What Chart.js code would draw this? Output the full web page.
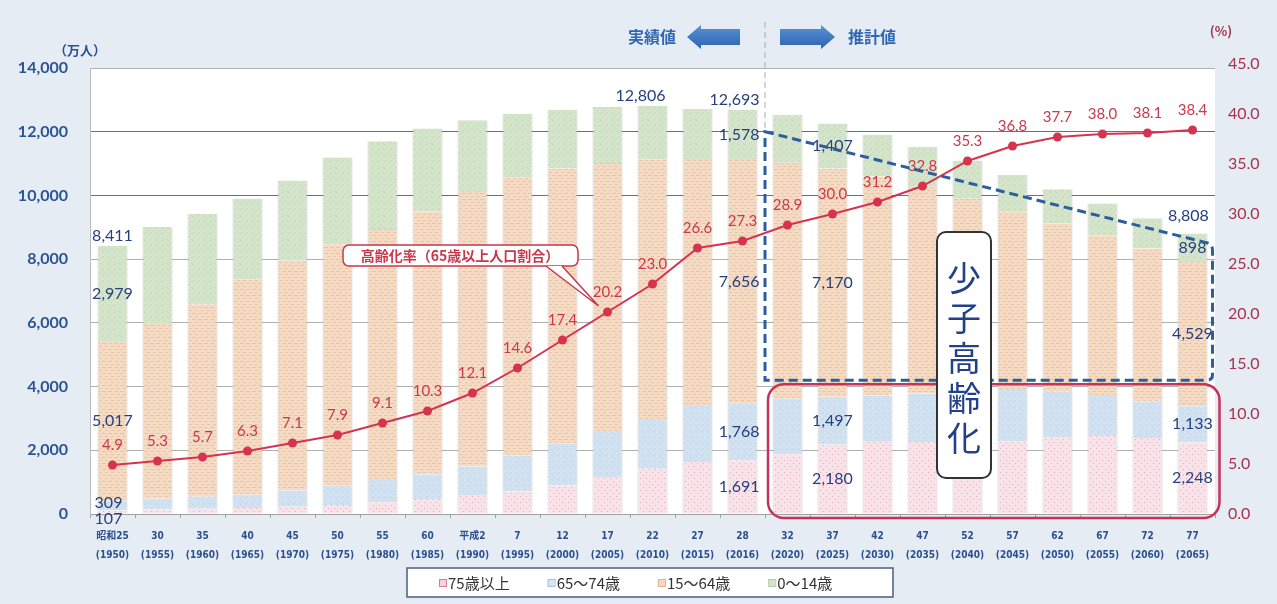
<!DOCTYPE html>
<html>
<head>
<meta charset="utf-8">
<script src="https://cdn.jsdelivr.net/npm/chart.js@4.4.1/dist/chart.umd.min.js"></script>
<style>
  html, body { margin: 0; padding: 0; background: #e5ecf3; }
  canvas { display: block; }
</style>
</head>
<body>
<canvas id="popChart" width="1277" height="604"></canvas>
<script>
// 年次（和暦・西暦）
const eras = ['昭和25', '30', '35', '40', '45', '50', '55', '60', '平成2', '7', '12', '17', '22', '27', '28',
              '32', '37', '42', '47', '52', '57', '62', '67', '72', '77'];
const years = [1950, 1955, 1960, 1965, 1970, 1975, 1980, 1985, 1990, 1995, 2000, 2005, 2010, 2015, 2016,
               2020, 2025, 2030, 2035, 2040, 2045, 2050, 2055, 2060, 2065];

// 年齢区分別人口（万人）
const age0to14  = [2979, 3012, 2843, 2553, 2515, 2722, 2751, 2603, 2254, 2003, 1850, 1759, 1684, 1595, 1578,
                   1507, 1407, 1321, 1246, 1194, 1138, 1077, 1012, 951, 898];
const age15to64 = [5017, 5517, 6047, 6744, 7212, 7581, 7883, 8251, 8614, 8726, 8638, 8442, 8174, 7728, 7656,
                   7406, 7170, 6875, 6494, 5978, 5584, 5275, 5028, 4793, 4529];
const age65to74 = [309, 338, 375, 418, 516, 601, 699, 776, 894, 1110, 1304, 1412, 1528, 1755, 1768,
                   1747, 1497, 1428, 1522, 1681, 1643, 1424, 1258, 1154, 1133];
const age75plus = [107, 139, 163, 189, 224, 284, 366, 471, 597, 718, 901, 1164, 1420, 1632, 1691,
                   1872, 2180, 2288, 2260, 2239, 2277, 2417, 2446, 2387, 2248];
const totalPop  = [8411, 9008, 9430, 9921, 10467, 11194, 11706, 12105, 12361, 12557, 12693, 12777, 12806, 12709, 12693,
                   12532, 12254, 11913, 11522, 11092, 10642, 10192, 9744, 9284, 8808];

// 高齢化率（%）
const agingRate = [4.9, 5.3, 5.7, 6.3, 7.1, 7.9, 9.1, 10.3, 12.1, 14.6, 17.4, 20.2, 23.0, 26.6, 27.3,
                   28.9, 30.0, 31.2, 32.8, 35.3, 36.8, 37.7, 38.0, 38.1, 38.4];

const popTicks = [0, 2000, 4000, 6000, 8000, 10000, 12000, 14000];
const rateTicks = [0, 5, 10, 15, 20, 25, 30, 35, 40, 45];

// 数値ラベルを付ける年次
const totalLabelAt = [0, 12, 14, 24];
const segLabelAt = [0, 14, 16, 24];

const NAVY = '#26407e';
const RED = '#d6334f';
const fmt = v => v.toLocaleString('en-US');

// small textured fills for the bars
function makePattern(base, ink, kind) {
  const c = document.createElement('canvas');
  c.width = 6; c.height = 6;
  const g = c.getContext('2d');
  g.fillStyle = base;
  g.fillRect(0, 0, 6, 6);
  g.fillStyle = ink;
  if (kind === 'lines') {
    g.fillRect(0, 1, 4, 1);
    g.fillRect(3, 4, 3, 1);
  } else if (kind === 'dots') {
    g.fillRect(1, 1, 1, 1);
    g.fillRect(4, 4, 1, 1);
  } else {
    g.fillRect(0, 0, 1, 1);
    g.fillRect(3, 2, 1, 1);
    g.fillRect(1, 4, 1, 1);
    g.fillRect(5, 5, 1, 1);
  }
  return g.createPattern(c, 'repeat');
}

const fills = {
  old: makePattern('#f8e3e9', '#e7aabd', 'dots'),
  young_old: makePattern('#d2e2f1', '#bdd3ea', 'grain'),
  working: makePattern('#f6dbc4', '#ecc4a4', 'lines'),
  child: makePattern('#d5e5cc', '#c0d6b2', 'grain')
};

const legendItems = [
  { text: '75歳以上', fill: '#f6d3de', line: '#d47d98' },
  { text: '65～74歳', fill: '#d6e5f3', line: '#a7c3df' },
  { text: '15～64歳', fill: '#f4d8c3', line: '#e3b592' },
  { text: '0～14歳',  fill: '#d6e4cf', line: '#b7cdaa' }
];

function roundRect(ctx, x, y, w, h, r) {
  ctx.beginPath();
  ctx.moveTo(x + r, y);
  ctx.arcTo(x + w, y, x + w, y + h, r);
  ctx.arcTo(x + w, y + h, x, y + h, r);
  ctx.arcTo(x, y + h, x, y, r);
  ctx.arcTo(x, y, x + w, y, r);
  ctx.closePath();
}

function blockArrow(ctx, tail, tip, cy) {
  const dir = tip > tail ? 1 : -1;
  const head = 14, shaft = 8, wing = 12;
  const neck = tip - dir * head;
  ctx.beginPath();
  ctx.moveTo(tail, cy - shaft);
  ctx.lineTo(neck, cy - shaft);
  ctx.lineTo(neck, cy - wing);
  ctx.lineTo(tip, cy);
  ctx.lineTo(neck, cy + wing);
  ctx.lineTo(neck, cy + shaft);
  ctx.lineTo(tail, cy + shaft);
  ctx.closePath();
  const grad = ctx.createLinearGradient(0, cy - wing, 0, cy + wing);
  grad.addColorStop(0, '#5b93d4');
  grad.addColorStop(1, '#2a62b3');
  ctx.fillStyle = grad;
  ctx.fill();
}

const decor = {
  id: 'decor',
  beforeDraw(chart) {
    const { ctx, chartArea: a } = chart;
    ctx.save();
    ctx.fillStyle = '#e5ecf3';
    ctx.fillRect(0, 0, chart.width, chart.height);
    ctx.fillStyle = '#ffffff';
    ctx.fillRect(a.left, a.top, a.right - a.left, a.bottom - a.top);
    ctx.restore();
  },
  afterDatasetsDraw(chart) {
    const { ctx, scales } = chart;
    const x = scales.x, y = scales.y, y1 = scales.y1;
    const segs = [age75plus, age65to74, age15to64, age0to14];
    ctx.save();

    // 高齢化率の数値
    ctx.font = '15px Lato, "Open Sans", sans-serif';
    ctx.fillStyle = '#c93a4c';
    ctx.textAlign = 'center';
    ctx.textBaseline = 'middle';
    agingRate.forEach((v, i) => {
      ctx.fillText(v.toFixed(1), x.getPixelForValue(i), y1.getPixelForValue(v) - 20);
    });

    // 人口の数値
    ctx.font = '16px Lato, "Open Sans", sans-serif';
    ctx.fillStyle = NAVY;
    const barRight = i => x.getPixelForValue(i) + 17;
    const place = (txt, i, yy, shift) => {
      if (i === 14) {
        ctx.textAlign = 'right';
        ctx.fillText(txt, barRight(i), yy);
      } else {
        ctx.textAlign = 'center';
        ctx.fillText(txt, x.getPixelForValue(i) + (shift || 0), yy);
      }
    };
    totalLabelAt.forEach(i => {
      const top = segs.reduce((s, arr) => s + arr[i], 0);
      const lift = i === 24 ? 18 : 10;
      place(fmt(totalPop[i]), i, y.getPixelForValue(top) - lift, i === 12 ? -12 : (i === 24 ? -4 : 0));
    });
    segLabelAt.forEach(i => {
      let base = 0;
      segs.forEach((arr, k) => {
        const v = arr[i];
        let yy = y.getPixelForValue(base + v / 2);
        if (i === 0 && k === 0) yy = y.getPixelForValue(0) + 5;
        if (i === 0 && k === 1) yy -= 3;
        place(fmt(v), i, yy, i === 0 && k < 2 ? -4 : 0);
        base += v;
      });
    });

    // 実績値／推計値 の境界
    const split = (x.getPixelForValue(14) + x.getPixelForValue(15)) / 2;
    const boxTop = y.getPixelForValue(12000);
    const boxBottom = y.getPixelForValue(4200);
    const lastX = x.getPixelForValue(24);
    ctx.strokeStyle = '#aaaaaa';
    ctx.lineWidth = 1;
    ctx.setLineDash([6, 4]);
    ctx.beginPath();
    ctx.moveTo(split, 22);
    ctx.lineTo(split, boxTop);
    ctx.stroke();

    // 少子化を示す青の破線枠
    const slantEnd = y.getPixelForValue(8530);
    ctx.strokeStyle = '#2c5e9e';
    ctx.lineWidth = 3;
    ctx.setLineDash([9, 5]);
    ctx.beginPath();
    ctx.moveTo(split, boxTop);
    ctx.lineTo(lastX + 12, slantEnd);
    ctx.quadraticCurveTo(lastX + 20, slantEnd + 1, lastX + 20, slantEnd + 8);
    ctx.lineTo(lastX + 20, boxBottom - 5);
    ctx.quadraticCurveTo(lastX + 20, boxBottom, lastX + 14, boxBottom);
    ctx.lineTo(split, boxBottom);
    ctx.closePath();
    ctx.stroke();
    ctx.setLineDash([]);

    // 高齢化を示す赤の枠
    ctx.strokeStyle = '#c8325a';
    ctx.lineWidth = 2.5;
    roundRect(ctx, split + 3, boxBottom + 4, lastX + 27 - split - 3, y.getPixelForValue(0) + 4 - boxBottom - 4, 16);
    ctx.stroke();

    ctx.restore();
  },
  afterDraw(chart) {
    const { ctx, scales } = chart;
    const x = scales.x, y1 = scales.y1;
    ctx.save();

    // 単位
    ctx.font = 'bold 13px "Noto Sans CJK JP", sans-serif';
    ctx.textAlign = 'center';
    ctx.textBaseline = 'middle';
    ctx.fillStyle = '#2b4f8f';
    ctx.fillText('（万人）', 80, 50);
    ctx.fillStyle = '#a8324c';
    ctx.fillText('(%)', 1221, 31);

    // 実績値 ← → 推計値
    ctx.font = 'bold 16px "Noto Sans CJK JP", sans-serif';
    ctx.fillStyle = '#2e67b3';
    ctx.fillText('実績値', 652, 37);
    ctx.fillText('推計値', 872, 37);
    blockArrow(ctx, 740, 687, 37);
    blockArrow(ctx, 780, 835, 37);

    // 高齢化率の吹き出し
    const px = x.getPixelForValue(11), py = y1.getPixelForValue(agingRate[11]);
    const tipX = px - 9, tipY = py - 6;
    ctx.fillStyle = '#ffffff';
    ctx.strokeStyle = '#c8374b';
    ctx.lineWidth = 1.5;
    roundRect(ctx, 343, 245, 235, 21, 6);
    ctx.fill();
    ctx.stroke();
    ctx.beginPath();
    ctx.moveTo(546, 266);
    ctx.lineTo(tipX, tipY);
    ctx.lineTo(562, 266);
    ctx.closePath();
    ctx.fill();
    ctx.beginPath();
    ctx.moveTo(546, 266);
    ctx.lineTo(tipX, tipY);
    ctx.lineTo(562, 266);
    ctx.stroke();
    ctx.font = 'bold 14px "Noto Sans CJK JP", sans-serif';
    ctx.fillStyle = '#c8374b';
    ctx.fillText('高齢化率（65歳以上人口割合）', 460, 256);

    // 少子高齢化
    ctx.fillStyle = '#ffffff';
    ctx.strokeStyle = '#333333';
    ctx.lineWidth = 2;
    roundRect(ctx, 937, 232, 54, 246, 9);
    ctx.fill();
    ctx.stroke();
    ctx.font = '34px "Noto Sans CJK JP", sans-serif';
    ctx.fillStyle = '#213f8a';
    ['少', '子', '高', '齢', '化'].forEach((ch, k) => ctx.fillText(ch, 964, 278 + k * 40));

    // 凡例
    ctx.fillStyle = '#ffffff';
    ctx.strokeStyle = '#4d5d80';
    ctx.lineWidth = 1.5;
    ctx.fillRect(407, 568, 486, 29);
    ctx.strokeRect(407, 568, 486, 29);
    ctx.font = '15px "Noto Sans CJK JP", sans-serif';
    ctx.textAlign = 'left';
    let lx = 439;
    legendItems.forEach(it => {
      ctx.fillStyle = it.fill;
      ctx.fillRect(lx, 579, 7, 7);
      ctx.strokeStyle = it.line;
      ctx.lineWidth = 1;
      ctx.strokeRect(lx + 0.5, 579.5, 7, 7);
      ctx.fillStyle = '#333333';
      ctx.fillText(it.text, lx + 9, 583);
      lx += 9 + ctx.measureText(it.text).width + 38;
    });

    ctx.restore();
  }
};

const barBase = {
  type: 'bar',
  yAxisID: 'y',
  order: 1,
  categoryPercentage: 1,
  barPercentage: 0.667,
  borderColor: 'rgba(150,150,150,0.45)',
  borderWidth: { left: 1, right: 1, top: 0, bottom: 0 }
};

const ctx = document.getElementById('popChart').getContext('2d');
const popChart = new Chart(ctx, {
  type: 'bar',
  data: {
    labels: eras.map((e, i) => [e, '(' + years[i] + ')']),
    datasets: [
      { ...barBase, label: '75歳以上', data: age75plus, backgroundColor: fills.old },
      { ...barBase, label: '65～74歳', data: age65to74, backgroundColor: fills.young_old },
      { ...barBase, label: '15～64歳', data: age15to64, backgroundColor: fills.working },
      { ...barBase, label: '0～14歳', data: age0to14, backgroundColor: fills.child },
      {
        type: 'line',
        label: '高齢化率',
        data: agingRate,
        yAxisID: 'y1',
        order: 0,
        borderColor: RED,
        backgroundColor: RED,
        borderWidth: 2,
        pointRadius: 4.5,
        pointBackgroundColor: RED,
        pointBorderWidth: 0
      }
    ]
  },
  options: {
    responsive: false,
    animation: false,
    layout: { padding: { top: 68, bottom: 34, left: 0, right: 0 } },
    plugins: {
      legend: { display: false },
      tooltip: { enabled: false }
    },
    scales: {
      x: {
        stacked: true,
        grid: { display: true, drawOnChartArea: false, offset: true, tickLength: 4, color: '#a0a0a0' },
        border: { color: '#a0a0a0' },
        ticks: {
          autoSkip: false,
          maxRotation: 0,
          padding: 9,
          color: '#2b4f8f',
          font: { size: 10, weight: 'bold', lineHeight: 1.9,
                  family: '"Liberation Sans Narrow", "DejaVu Sans Condensed", "Noto Sans CJK JP", sans-serif' }
        },
        afterFit: s => { s.height = 56; }
      },
      y: {
        stacked: true,
        position: 'left',
        min: 0,
        max: 14000,
        afterBuildTicks: s => { s.ticks = popTicks.map(v => ({ value: v })); },
        grid: {
          drawTicks: false,
          color: c => (c.tick && c.tick.value >= 10000 && c.tick.value < 14000) ? '#6f6f6f' : '#b0b0b0'
        },
        border: { color: '#bbbbbb' },
        ticks: {
          padding: 22,
          color: '#2b5494',
          font: { size: 16, weight: 'bold', family: 'Lato, "Open Sans", sans-serif' },
          callback: v => fmt(v)
        },
        afterFit: s => { s.width = 90; }
      },
      y1: {
        position: 'right',
        min: 0,
        max: 44.6,
        afterBuildTicks: s => { s.ticks = rateTicks.map(v => ({ value: v })); },
        grid: { display: false, drawTicks: false },
        border: { display: false },
        ticks: {
          autoSkip: false,
          padding: 13,
          color: '#a8324c',
          font: { size: 16, family: 'Lato, "Open Sans", sans-serif' },
          callback: v => Number(v).toFixed(1)
        },
        afterFit: s => { s.width = 62; }
      }
    }
  },
  plugins: [decor]
});
</script>
</body>
</html>
